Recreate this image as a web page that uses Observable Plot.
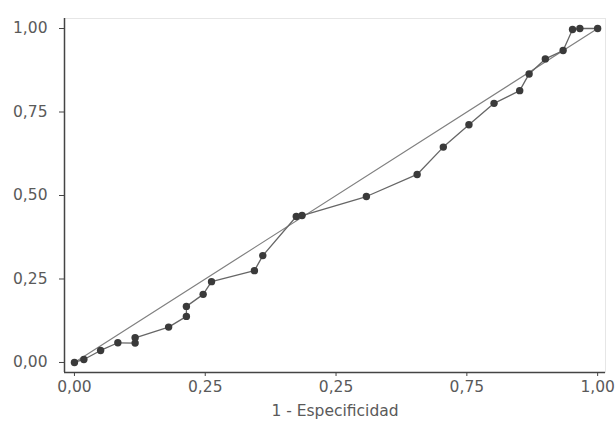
<!DOCTYPE html>
<html>
<head>
<meta charset="utf-8">
<script src="https://cdn.jsdelivr.net/npm/d3@7"></script>
<script src="https://cdn.jsdelivr.net/npm/@observablehq/plot@0.6"></script>
<style>
  html, body { margin: 0; padding: 0; background: #fff; }
  #chart svg { display: block; }
</style>
</head>
<body>
<div id="chart"></div>
<script>
// 1 - Especificidad (false positive rate)
const fpr = [0, 0.018, 0.05, 0.083, 0.116, 0.116, 0.18, 0.214, 0.214, 0.246, 0.262, 0.344, 0.36, 0.424, 0.435, 0.558, 0.655, 0.705, 0.754, 0.802, 0.851, 0.869, 0.90, 0.934, 0.952, 0.966, 1.0];
// Sensibilidad
const sens = [0, 0.009, 0.036, 0.059, 0.058, 0.074, 0.106, 0.138, 0.168, 0.204, 0.242, 0.275, 0.32, 0.437, 0.44, 0.497, 0.563, 0.645, 0.712, 0.776, 0.814, 0.864, 0.909, 0.934, 0.997, 1.0, 1.0];
// reference diagonal
const diagX = [0, 1];
const diagY = [0, 1];
// tick values and labels (labels as printed in the original)
const xTicks = [0, 0.25, 0.5, 0.75, 1];
const xTickLabels = ["0,00", "0,25", "0,25", "0,75", "1,00"];
const yTicks = [0, 0.25, 0.5, 0.75, 1];
const yTickLabels = ["0,00", "0,25", "0,50", "0,75", "1,00"];
const xTitle = "1 - Especificidad";

const roc = fpr.map((x, i) => ({x, y: sens[i]}));
const diag = diagX.map((x, i) => ({x, y: diagY[i]}));
const xDomain = [-0.019, 1.015];
const yDomain = [-0.03, 1.03];

const chart = Plot.plot({
  width: 616,
  height: 426,
  marginLeft: 64,
  marginRight: 11,
  marginTop: 18,
  marginBottom: 54,
  style: {fontFamily: "'DejaVu Sans', sans-serif", fontSize: "15.5px", color: "#555", background: "#fff"},
  x: {domain: xDomain},
  y: {domain: yDomain},
  marks: [
    Plot.frame({stroke: "#e6e6e6"}),
    Plot.ruleX([xDomain[0]], {stroke: "#444", strokeWidth: 1.5}),
    Plot.ruleY([yDomain[0]], {stroke: "#444", strokeWidth: 1.5}),
    Plot.axisY({ticks: yTicks, tickFormat: d => yTickLabels[yTicks.indexOf(d)], tickSize: 5, tickPadding: 12, label: null, stroke: "#444", fill: "#5a5a5a"}),
    Plot.axisX({ticks: xTicks, tickFormat: d => xTickLabels[xTicks.indexOf(d)], tickSize: 4, tickPadding: 4, label: xTitle, labelAnchor: "center", labelOffset: 43, labelArrow: "none", stroke: "#444", fill: "#5a5a5a"}),
    Plot.line(diag, {x: "x", y: "y", stroke: "#808080", strokeWidth: 1.2}),
    Plot.line(roc, {x: "x", y: "y", stroke: "#666", strokeWidth: 1.3}),
    Plot.dot(roc, {x: "x", y: "y", r: 3.7, fill: "#3a3a3a", stroke: "none"})
  ]
});
document.getElementById("chart").appendChild(chart);
</script>
</body>
</html>
